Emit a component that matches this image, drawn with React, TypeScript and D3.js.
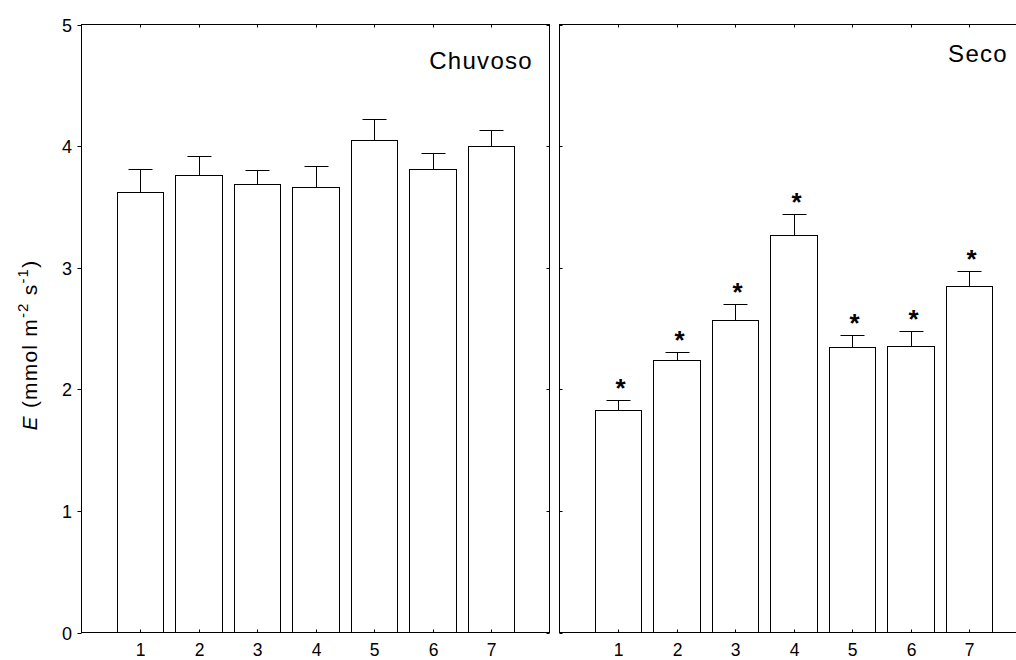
import React from "react";
import * as d3 from "d3";

const categories = [1, 2, 3, 4, 5, 6, 7];
const chuvosoMean = [3.62, 3.76, 3.69, 3.66, 4.05, 3.81, 4.0];
const chuvosoErr = [0.19, 0.16, 0.11, 0.18, 0.17, 0.13, 0.13];
const secoMean = [1.83, 2.24, 2.57, 3.27, 2.35, 2.36, 2.85];
const secoErr = [0.08, 0.07, 0.13, 0.17, 0.1, 0.12, 0.12];
const secoSignif = [true, true, true, true, true, true, true];
const yTicks = [0, 1, 2, 3, 4, 5];
const panelTitles = ["Chuvoso", "Seco"];

const W = 1016;
const H = 660;
const top = 24.5;
const bottom = 632.5;
const panelW = 468;
const panelsX = [81.5, 559.5];

const y = d3.scaleLinear().domain([0, 5]).range([bottom, top]);

function Panel({ idx, means, errs, signif }: { idx: number; means: number[]; errs: number[]; signif?: boolean[] }) {
  const x0 = panelsX[idx];
  const x = d3.scaleLinear().domain([0, 8]).range([x0, x0 + panelW]);
  const bw = 0.8 * (x(1) - x(0));
  const cap = 24;
  const font = "Arial, 'Liberation Sans', sans-serif";
  return (
    <g>
      {categories.map((c, i) => {
        const cx = Math.round(x(c)) + 0.5;
        const left = Math.round(x(c) - bw / 2) + 0.5;
        const right = Math.round(x(c) + bw / 2) + 0.5;
        const ty = Math.round(y(means[i])) + 0.5;
        const ey = Math.round(y(means[i] + errs[i])) + 0.5;
        return (
          <g key={c}>
            <line x1={cx} x2={cx} y1={ty} y2={ey} stroke="#000" />
            <line x1={cx - cap / 2} x2={cx + cap / 2} y1={ey} y2={ey} stroke="#000" />
            <rect x={left} y={ty} width={right - left} height={bottom - ty} fill="#fff" stroke="#000" />
            {signif && signif[i] ? (
              <text x={cx + 2} y={ey - 3.5} textAnchor="middle" fontFamily={font} fontSize={26} fontWeight="bold">*</text>
            ) : null}
          </g>
        );
      })}
      <rect x={x0} y={top} width={panelW} height={bottom - top} fill="none" stroke="#000" />
      {categories.map((c) => {
        const cx = Math.round(x(c)) + 0.5;
        return (
          <g key={"t" + c}>
            <line x1={cx} x2={cx} y1={top} y2={top + 3} stroke="#000" />
            <line x1={cx} x2={cx} y1={bottom} y2={bottom - 3} stroke="#000" />
            <text x={cx} y={655.5} textAnchor="middle" fontFamily={font} fontSize={17.5}>{c}</text>
          </g>
        );
      })}
      {yTicks.map((t) => {
        const ty = Math.round(y(t)) + 0.5;
        return idx === 0 ? (
          <g key={"y" + t}>
            <line x1={x0 - 4} x2={x0} y1={ty} y2={ty} stroke="#000" />
            <line x1={x0 + panelW - 3} x2={x0 + panelW} y1={ty} y2={ty} stroke="#000" />
            <text x={72} y={ty} dy="0.35em" textAnchor="end" fontFamily={font} fontSize={18}>{t}</text>
          </g>
        ) : (
          <g key={"y" + t}>
            <line x1={x0} x2={x0 + 3} y1={ty} y2={ty} stroke="#000" />
          </g>
        );
      })}
      <text
        x={idx === 0 ? 533 : 1008}
        y={idx === 0 ? 69 : 62}
        textAnchor="end"
        fontFamily={font}
        fontSize={24}
        letterSpacing={1.3}
      >
        {panelTitles[idx]}
      </text>
    </g>
  );
}

export default function App() {
  const font = "Arial, 'Liberation Sans', sans-serif";
  return (
    <svg
      width={W}
      height={H}
      style={{ position: "absolute", left: 0, top: 0, background: "#fff" }}
    >
      <rect x={0} y={0} width={W} height={H} fill="#fff" />
      <Panel idx={0} means={chuvosoMean} errs={chuvosoErr} />
      <Panel idx={1} means={secoMean} errs={secoErr} signif={secoSignif} />
      <text
        transform="translate(37,345) rotate(-90)"
        textAnchor="middle"
        fontFamily={font}
        fontSize={21}
        letterSpacing={1.2}
      >
        <tspan fontStyle="italic">E</tspan>
        <tspan> (mmol m</tspan>
        <tspan fontSize={15} dy={-9}>-2</tspan>
        <tspan dy={9}> s</tspan>
        <tspan fontSize={15} dy={-9}>-1</tspan>
        <tspan dy={9}>)</tspan>
      </text>
    </svg>
  );
}
